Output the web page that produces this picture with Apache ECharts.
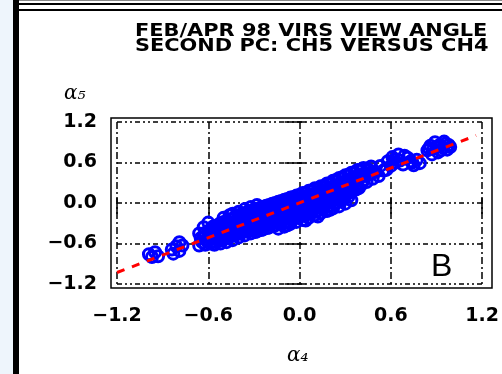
<!DOCTYPE html>
<html>
<head>
<meta charset="utf-8">
<script src="https://cdn.jsdelivr.net/npm/echarts@6/dist/echarts.min.js"></script>
<style>html,body{margin:0;padding:0;background:#fff;}#c{width:502px;height:374px;}</style>
</head>
<body>
<div id="c"></div>
<script>
// ---- data ----
const titleLines = ['FEB/APR 98 VIRS VIEW ANGLE', 'SECOND PC: CH5 VERSUS CH4'];
const xTickLabels = ['\u22121.2', '\u22120.6', '0.0', '0.6', '1.2'];
const yTickLabels = ['\u22121.2', '\u22120.6', '0.0', '0.6', '1.2'];
const xAxisName = '\u03b1\u2084';
const yAxisName = '\u03b1\u2085';
const panelLetter = 'B';

// scatter points [alpha CH4, alpha CH5]
const outlierPoints = [
  [-0.99,-0.76],[-0.95,-0.73],[-0.93,-0.79],[-0.97,-0.80],[-0.84,-0.69],
  [-0.81,-0.64],[-0.79,-0.58],[-0.79,-0.71],[-0.77,-0.63],[-0.83,-0.75]
];
const bandPoints = [
  [-0.66,-0.45],[-0.65,-0.52],[-0.64,-0.58],[-0.66,-0.63],
  [-0.63,-0.36],[-0.62,-0.44],[-0.63,-0.50],[-0.61,-0.56],[-0.62,-0.62],
  [-0.60,-0.29],[-0.59,-0.40],[-0.60,-0.47],[-0.58,-0.53],[-0.59,-0.60],[-0.57,-0.35],
  [-0.56,-0.34],[-0.55,-0.41],[-0.56,-0.47],[-0.54,-0.53],[-0.55,-0.58],[-0.53,-0.38],
  [-0.52,-0.30],[-0.51,-0.37],[-0.52,-0.44],[-0.50,-0.50],[-0.51,-0.55],[-0.49,-0.33],
  [-0.48,-0.27],[-0.47,-0.34],[-0.48,-0.40],[-0.46,-0.46],[-0.47,-0.52],[-0.45,-0.29],
  [-0.44,-0.16],[-0.43,-0.30],[-0.44,-0.36],[-0.42,-0.42],[-0.43,-0.47],[-0.41,-0.25],[-0.42,-0.33],
  [-0.40,-0.20],[-0.39,-0.27],[-0.40,-0.33],[-0.38,-0.39],[-0.39,-0.45],[-0.37,-0.22],[-0.38,-0.30],
  [-0.36,-0.15],[-0.35,-0.23],[-0.36,-0.30],[-0.34,-0.36],[-0.35,-0.42],[-0.33,-0.19],[-0.34,-0.27],
  [-0.32,-0.12],[-0.31,-0.20],[-0.32,-0.27],[-0.30,-0.33],[-0.31,-0.39],[-0.29,-0.15],[-0.30,-0.24],[-0.29,-0.43],
  [-0.28,-0.09],[-0.27,-0.17],[-0.28,-0.23],[-0.26,-0.30],[-0.27,-0.36],[-0.25,-0.12],[-0.26,-0.20],[-0.25,-0.40],
  [-0.24,-0.06],[-0.23,-0.13],[-0.24,-0.20],[-0.22,-0.27],[-0.23,-0.33],[-0.21,-0.09],[-0.22,-0.17],[-0.21,-0.37],
  [-0.20,-0.03],[-0.19,-0.10],[-0.20,-0.16],[-0.18,-0.23],[-0.19,-0.30],[-0.17,-0.06],[-0.18,-0.13],[-0.17,-0.34],
  [-0.16,0.00],[-0.15,-0.07],[-0.16,-0.13],[-0.14,-0.20],[-0.15,-0.27],[-0.13,-0.03],[-0.14,-0.10],[-0.13,-0.31],
  [-0.12,0.03],[-0.11,-0.04],[-0.12,-0.10],[-0.10,-0.17],[-0.11,-0.24],[-0.09,0.00],[-0.10,-0.07],[-0.09,-0.28],
  [-0.08,0.06],[-0.07,-0.01],[-0.08,-0.07],[-0.06,-0.14],[-0.07,-0.21],[-0.05,0.03],[-0.06,-0.04],[-0.05,-0.25],
  [-0.04,0.09],[-0.03,0.02],[-0.04,-0.04],[-0.02,-0.11],[-0.03,-0.18],[-0.01,0.06],[-0.02,-0.01],[-0.01,-0.22],
  [0.00,0.12],[0.01,0.05],[0.00,-0.01],[0.02,-0.08],[0.01,-0.15],[0.03,0.09],[0.02,0.02],[0.03,-0.19],
  [0.04,0.15],[0.05,0.08],[0.04,0.02],[0.06,-0.05],[0.05,-0.12],[0.07,0.12],[0.06,0.05],[0.07,-0.16],
  [0.08,0.18],[0.09,0.11],[0.08,0.05],[0.10,-0.02],[0.09,-0.09],[0.11,0.15],[0.10,0.08],[0.11,-0.13],
  [0.12,0.21],[0.13,0.14],[0.12,0.09],[0.14,0.02],[0.13,-0.05],[0.15,0.18],[0.14,0.11],[0.15,-0.09],
  [0.16,0.25],[0.17,0.18],[0.16,0.12],[0.18,0.05],[0.17,-0.02],[0.19,0.22],[0.18,0.15],[0.19,-0.05],
  [0.20,0.29],[0.21,0.22],[0.20,0.16],[0.22,0.09],[0.21,0.03],[0.23,0.26],[0.22,0.19],[0.23,0.00],
  [0.24,0.34],[0.25,0.26],[0.24,0.20],[0.26,0.13],[0.25,0.07],[0.27,0.30],[0.26,0.23],[0.27,0.05],
  [0.28,0.38],[0.29,0.30],[0.28,0.24],[0.30,0.17],[0.29,0.11],[0.31,0.34],[0.30,0.27],[0.31,0.13],
  [0.32,0.42],[0.33,0.34],[0.32,0.27],[0.34,0.21],[0.33,0.16],[0.35,0.38],[0.34,0.31],
  [0.36,0.45],[0.37,0.38],[0.36,0.31],[0.38,0.25],[0.37,0.20],[0.39,0.41],[0.38,0.34],
  [0.40,0.48],[0.41,0.40],[0.42,0.34],[0.41,0.28],[0.43,0.44],
  [0.45,0.50],[0.46,0.42],[0.48,0.36],[0.47,0.54],[0.50,0.46],[0.52,0.40],[0.53,0.55],[0.55,0.48]
];
const bandPoints2 = [
  [-0.58,-0.38],[-0.57,-0.45],[-0.58,-0.51],[-0.57,-0.57],[-0.56,-0.62],
  [-0.54,-0.33],[-0.53,-0.43],[-0.54,-0.49],[-0.53,-0.56],[-0.52,-0.60],
  [-0.50,-0.28],[-0.49,-0.39],[-0.50,-0.46],[-0.49,-0.53],[-0.48,-0.58],
  [-0.46,-0.24],[-0.45,-0.36],[-0.46,-0.42],[-0.45,-0.49],[-0.44,-0.55],
  [-0.42,-0.19],[-0.41,-0.32],[-0.42,-0.39],[-0.41,-0.45],[-0.40,-0.51],
  [-0.38,-0.16],[-0.37,-0.28],[-0.38,-0.35],[-0.37,-0.42],[-0.36,-0.48],
  [-0.34,-0.13],[-0.33,-0.24],[-0.34,-0.31],[-0.33,-0.38],[-0.32,-0.45],
  [-0.30,-0.10],[-0.29,-0.21],[-0.30,-0.28],[-0.29,-0.35],[-0.28,-0.42],
  [-0.26,-0.07],[-0.25,-0.17],[-0.26,-0.25],[-0.25,-0.32],[-0.24,-0.39],
  [-0.22,-0.04],[-0.21,-0.14],[-0.22,-0.22],[-0.21,-0.29],[-0.20,-0.36],
  [-0.18,-0.01],[-0.17,-0.10],[-0.18,-0.18],[-0.17,-0.26],[-0.16,-0.33],
  [-0.14,0.02],[-0.13,-0.07],[-0.14,-0.15],[-0.13,-0.23],[-0.12,-0.30],
  [-0.10,0.05],[-0.09,-0.04],[-0.10,-0.12],[-0.09,-0.20],[-0.08,-0.27],
  [-0.06,0.08],[-0.05,-0.01],[-0.06,-0.08],[-0.05,-0.16],[-0.04,-0.23],
  [-0.02,0.11],[-0.01,0.02],[-0.02,-0.05],[-0.01,-0.13],[0.00,-0.20],
  [0.02,0.15],[0.03,0.05],[0.02,-0.02],[0.03,-0.10],[0.04,-0.17],
  [0.06,0.18],[0.07,0.08],[0.06,0.01],[0.07,-0.07],[0.08,-0.14],
  [0.10,0.22],[0.11,0.12],[0.10,0.04],[0.11,-0.04],[0.12,-0.11],
  [0.14,0.25],[0.15,0.15],[0.14,0.07],[0.15,-0.01],[0.16,-0.08],
  [0.18,0.29],[0.19,0.19],[0.18,0.10],[0.19,0.02],[0.20,-0.04],
  [0.22,0.33],[0.23,0.23],[0.22,0.14],[0.23,0.06],[0.24,0.00],
  [0.26,0.37],[0.27,0.27],[0.26,0.18],[0.27,0.10],[0.28,0.04],
  [0.30,0.41],[0.31,0.31],[0.30,0.21],[0.31,0.14],[0.32,0.09],
  [0.34,0.45],[0.35,0.35],[0.34,0.25],[0.35,0.18],
  [0.38,0.49],[0.39,0.38],[0.38,0.29],[0.39,0.22],
  [0.42,0.52],[0.43,0.40],[0.44,0.31],[0.44,0.48]
];
const bandEdgePoints = [
  [-0.50,-0.22],[-0.46,-0.18],[-0.40,-0.13],[-0.36,-0.09],[-0.32,-0.06],[-0.28,-0.03],
  [-0.14,-0.38],[-0.10,-0.35],[-0.08,-0.33],[-0.06,-0.31],[-0.02,-0.28],[0.02,-0.25],
  [0.04,-0.26],[0.06,-0.22],[0.10,-0.18],[0.12,-0.20],[0.14,-0.15],[0.18,-0.12],
  [0.20,-0.10],[0.22,-0.08],[0.26,-0.05],[0.30,-0.01],[0.34,0.04]
];
const upperTailPoints = [
  [0.58,0.62],[0.60,0.55],[0.61,0.68],[0.63,0.60],[0.65,0.72],[0.66,0.63],
  [0.68,0.57],[0.71,0.67],[0.73,0.62],[0.75,0.56],[0.77,0.64],[0.57,0.49],
  [0.62,0.64],[0.69,0.70],[0.74,0.60],[0.79,0.59],
  [0.84,0.78],[0.86,0.85],[0.88,0.80],[0.89,0.90],[0.91,0.75],[0.92,0.86],
  [0.94,0.82],[0.95,0.91],[0.97,0.79],[0.98,0.86],[0.87,0.72],[0.90,0.83],
  [0.85,0.81],[0.93,0.78],[0.96,0.88],[0.99,0.83]
];
// fitted line (red dashed)
const fitX = [-1.2, 1.16];
const fitY = [-1.03, 1.0];

// ---- chart ----
const chart = echarts.init(document.getElementById('c'), null, {renderer: 'canvas'});
const allPoints = outlierPoints.concat(bandPoints, bandPoints2, bandEdgePoints, upperTailPoints);
const fitLine = fitX.map((x, i) => [x, fitY[i]]);
const tickIdx = v => Math.round((v + 1.2) / 0.6);
const labelFont = {fontFamily: 'DejaVu Sans', fontWeight: 'bold', fontSize: 19, color: '#000'};

const option = {
  animation: false,
  backgroundColor: '#ffffff',
  grid: {left: 117, right: 16, top: 122, bottom: 90, containLabel: false},
  xAxis: [{
    type: 'value', min: -1.2, max: 1.2, interval: 0.6,
    axisLine: {show: false},
    axisTick: {show: true, length: 11, lineStyle: {color: '#000', width: 1.5}},
    axisLabel: Object.assign({margin: 23, formatter: v => xTickLabels[tickIdx(v)]}, labelFont),
    splitLine: {show: true, lineStyle: {color: '#000', width: 1.5, type: [7, 3, 2, 3]}}
  }, {
    type: 'value', position: 'top', min: -1.2, max: 1.2, interval: 0.6,
    axisLine: {show: false}, axisLabel: {show: false}, splitLine: {show: false},
    axisTick: {show: true, length: 5, lineStyle: {color: '#000', width: 1.5}}
  }],
  yAxis: [{
    type: 'value', min: -1.2, max: 1.2, interval: 0.6,
    axisLine: {show: false},
    axisTick: {show: true, length: 15, lineStyle: {color: '#000', width: 1.5}},
    axisLabel: Object.assign({margin: 20, formatter: v => yTickLabels[tickIdx(v)]}, labelFont),
    splitLine: {show: true, lineStyle: {color: '#000', width: 1.5, type: [5, 3, 2, 3, 2, 3]}}
  }, {
    type: 'value', position: 'right', min: -1.2, max: 1.2, interval: 0.6,
    axisLine: {show: false}, axisLabel: {show: false}, splitLine: {show: false},
    axisTick: {show: true, length: 6, lineStyle: {color: '#000', width: 1.5}}
  }],
  series: [{
    type: 'scatter',
    data: allPoints,
    symbol: 'circle',
    symbolSize: 11,
    itemStyle: {color: 'rgba(0,0,0,0)', borderColor: '#0000ff', borderWidth: 3, opacity: 1},
    z: 3
  }, {
    type: 'line',
    data: fitLine,
    symbol: 'none',
    lineStyle: {color: '#ff0000', width: 3, type: [8, 8]},
    z: 5
  }],
  graphic: [
    {type: 'rect', shape: {x: 0, y: 0, width: 13, height: 374}, style: {fill: '#eef5fc'}, silent: true},
    {type: 'rect', shape: {x: 13, y: 0, width: 6, height: 374}, style: {fill: '#000'}, silent: true},
    {type: 'rect', shape: {x: 19, y: 0, width: 483, height: 1}, style: {fill: '#888'}, silent: true},
    {type: 'rect', shape: {x: 19, y: 3, width: 483, height: 2}, style: {fill: '#000'}, silent: true},
    {type: 'rect', shape: {x: 19, y: 9, width: 483, height: 2}, style: {fill: '#000'}, silent: true},
    {type: 'rect', shape: {x: 111, y: 118, width: 381, height: 170}, style: {fill: 'none', stroke: '#000', lineWidth: 1.5}, silent: true, z: 10},
    {type: 'text', x: 135, y: 24, scaleX: 1.16, style: {text: titleLines.join('\n'), fill: '#000', font: 'bold 18px "DejaVu Sans"', align: 'left', verticalAlign: 'top', lineHeight: 15}},
    {type: 'text', x: 64, y: 84, style: {text: yAxisName, fill: '#000', font: 'italic 20px "DejaVu Serif"', align: 'left', verticalAlign: 'top'}},
    {type: 'text', x: 287, y: 346, style: {text: xAxisName, fill: '#000', font: 'italic 20px "DejaVu Serif"', align: 'left', verticalAlign: 'top'}},
    {type: 'text', x: 431, y: 251, style: {text: panelLetter, fill: '#000', font: '32px "Liberation Sans"', align: 'left', verticalAlign: 'top'}, z: 10}
  ]
};
chart.setOption(option);
</script>
</body>
</html>
